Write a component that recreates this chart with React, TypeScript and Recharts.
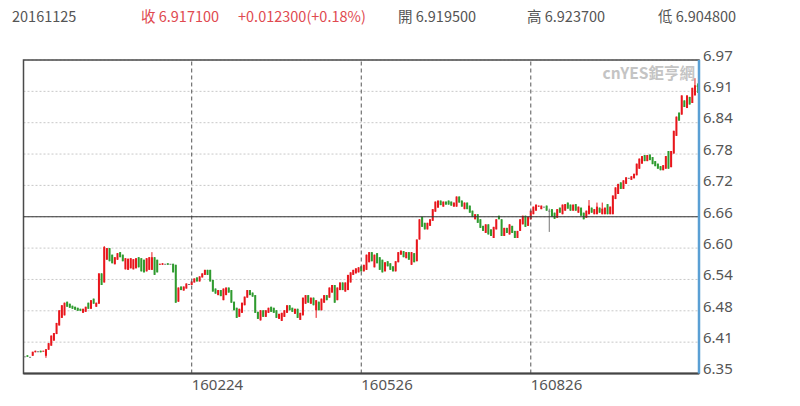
import React from 'react';
import { ComposedChart, Bar, XAxis, YAxis, CartesianGrid, ReferenceLine, ReferenceArea } from 'recharts';

// daily USD/CNY candles, 20151125 .. 20161125
const opens = [
  6.384, 6.386, 6.383, 6.385, 6.392, 6.394, 6.395, 6.394, 6.385, 6.397,
  6.405, 6.415, 6.428, 6.445, 6.46, 6.465, 6.492, 6.488, 6.484, 6.482,
  6.48, 6.478, 6.47, 6.472, 6.49, 6.478, 6.498, 6.482, 6.488, 6.548,
  6.53, 6.575, 6.598, 6.585, 6.566, 6.575, 6.59, 6.585, 6.556, 6.555,
  6.558, 6.556, 6.558, 6.58, 6.578, 6.575, 6.552, 6.555, 6.555, 6.58,
  6.575, 6.566, 6.565, 6.567, 6.568, 6.567, 6.567, 6.565, 6.492, 6.522,
  6.514, 6.518, 6.527, 6.525, 6.53, 6.54, 6.532, 6.54, 6.545, 6.555,
  6.555, 6.535, 6.518, 6.505, 6.515, 6.495, 6.505, 6.52, 6.515, 6.492,
  6.48, 6.462, 6.47, 6.485, 6.5, 6.515, 6.51, 6.505, 6.472, 6.455,
  6.475, 6.462, 6.47, 6.482, 6.48, 6.475, 6.458, 6.454, 6.462, 6.47,
  6.485, 6.48, 6.468, 6.478, 6.456, 6.465, 6.488, 6.505, 6.488, 6.5,
  6.475, 6.492, 6.475, 6.49, 6.505, 6.5, 6.51, 6.525, 6.495, 6.515,
  6.53, 6.512, 6.515, 6.53, 6.545, 6.548, 6.55, 6.562, 6.552, 6.555,
  6.57, 6.59, 6.56, 6.588, 6.58, 6.575, 6.552, 6.572, 6.568, 6.562,
  6.552, 6.57, 6.585, 6.592, 6.578, 6.59, 6.565, 6.588, 6.572, 6.615,
  6.66, 6.648, 6.635, 6.642, 6.652, 6.67, 6.678, 6.692, 6.68, 6.69,
  6.692, 6.69, 6.68, 6.68, 6.7, 6.692, 6.675, 6.688, 6.682, 6.672,
  6.655, 6.665, 6.655, 6.642, 6.628, 6.645, 6.635, 6.618, 6.635, 6.662,
  6.655, 6.622, 6.638, 6.625, 6.642, 6.632, 6.618, 6.632, 6.645, 6.662,
  6.642, 6.655, 6.665, 6.672, 6.68, 6.675, 6.68, 6.682, 6.672, 6.675,
  6.668, 6.658, 6.678, 6.665, 6.672, 6.688, 6.684, 6.672, 6.685, 6.668,
  6.678, 6.668, 6.658, 6.665, 6.678, 6.665, 6.665, 6.678, 6.665, 6.665,
  6.685, 6.665, 6.665, 6.695, 6.705, 6.728, 6.715, 6.725, 6.737, 6.733,
  6.736, 6.742, 6.755, 6.765, 6.782, 6.77, 6.783, 6.778, 6.77, 6.765,
  6.76, 6.752, 6.755, 6.79, 6.758, 6.785, 6.82, 6.866, 6.862, 6.89,
  6.875, 6.897, 6.885, 6.9, 6.9195,
];

const closes = [
  6.384, 6.383, 6.383, 6.393, 6.395, 6.394, 6.392, 6.395, 6.398, 6.41,
  6.425, 6.43, 6.45, 6.475, 6.485, 6.49, 6.482, 6.48, 6.478, 6.476,
  6.474, 6.474, 6.478, 6.482, 6.478, 6.495, 6.488, 6.49, 6.548, 6.525,
  6.6, 6.598, 6.572, 6.568, 6.58, 6.588, 6.58, 6.572, 6.578, 6.577,
  6.578, 6.576, 6.578, 6.56, 6.552, 6.55, 6.578, 6.58, 6.58, 6.545,
  6.55, 6.567, 6.568, 6.567, 6.565, 6.567, 6.55, 6.49, 6.52, 6.515,
  6.522, 6.528, 6.527, 6.532, 6.538, 6.532, 6.542, 6.548, 6.555, 6.545,
  6.532, 6.512, 6.508, 6.515, 6.503, 6.518, 6.52, 6.51, 6.49, 6.475,
  6.46, 6.478, 6.49, 6.502, 6.515, 6.505, 6.502, 6.47, 6.458, 6.475,
  6.462, 6.475, 6.48, 6.472, 6.47, 6.46, 6.468, 6.47, 6.475, 6.485,
  6.475, 6.472, 6.478, 6.46, 6.47, 6.5, 6.505, 6.49, 6.5, 6.485,
  6.495, 6.475, 6.498, 6.505, 6.495, 6.52, 6.525, 6.49, 6.52, 6.53,
  6.515, 6.53, 6.545, 6.55, 6.555, 6.558, 6.56, 6.552, 6.565, 6.585,
  6.59, 6.572, 6.585, 6.568, 6.555, 6.55, 6.57, 6.562, 6.555, 6.552,
  6.572, 6.59, 6.593, 6.58, 6.59, 6.575, 6.59, 6.57, 6.615, 6.655,
  6.64, 6.635, 6.648, 6.655, 6.675, 6.69, 6.692, 6.683, 6.69, 6.684,
  6.684, 6.682, 6.688, 6.7, 6.688, 6.68, 6.688, 6.675, 6.668, 6.66,
  6.665, 6.648, 6.638, 6.632, 6.645, 6.625, 6.622, 6.64, 6.655, 6.655,
  6.622, 6.638, 6.628, 6.645, 6.628, 6.618, 6.632, 6.655, 6.662, 6.64,
  6.66, 6.672, 6.68, 6.684, 6.682, 6.682, 6.68, 6.672, 6.672, 6.66,
  6.656, 6.675, 6.668, 6.684, 6.685, 6.676, 6.672, 6.684, 6.672, 6.68,
  6.662, 6.655, 6.672, 6.682, 6.668, 6.675, 6.68, 6.668, 6.676, 6.678,
  6.665, 6.68, 6.702, 6.718, 6.725, 6.715, 6.732, 6.738, 6.737, 6.74,
  6.745, 6.765, 6.775, 6.78, 6.77, 6.782, 6.772, 6.764, 6.76, 6.755,
  6.752, 6.762, 6.78, 6.755, 6.79, 6.83, 6.858, 6.85, 6.9, 6.877,
  6.9, 6.882, 6.915, 6.92, 6.9171,
];

// [day index, high, low] for the days whose wick sticks out of the body
const extremes: [number, number, number][] = [
  [8, 6.398, 6.381],
  [30, 6.602, 6.53],
  [48, 6.59, 6.555],
  [110, 6.495, 6.46],
  [198, 6.676, 6.63],
  [213, 6.693, 6.665],
  [216, 6.688, 6.665],
  [218, 6.688, 6.665],
  [253, 6.934, 6.9],
  [254, 6.9237, 6.9048],
];

const xTickIndex = [63, 127, 191];
const xTickLabels = ['160224', '160526', '160826'];

const yTicks = [6.35, 6.412, 6.474, 6.536, 6.598, 6.66, 6.722, 6.784, 6.846, 6.908, 6.97];
const yTickLabels = ['6.35', '6.41', '6.48', '6.54', '6.60', '6.66', '6.72', '6.78', '6.84', '6.91', '6.97'];

const yMin = 6.35;
const yMax = 6.97;
const baseLine = 6.66;

const rows = opens.map((o, i) => {
  const c = closes[i];
  const ext = extremes.find((e) => e[0] === i);
  const h = ext ? Math.max(o, c, ext[1]) : Math.max(o, c);
  const l = ext ? Math.min(o, c, ext[2]) : Math.min(o, c);
  return { i, o, c, h, l, range: [l, h] };
});

const UP = '#e8161c';
const DOWN = '#2f9b2f';
const FLAT = '#777777';

const Candle = (props: any) => {
  const { x, y, width, height, payload } = props;
  const { o, c, h, l } = payload;
  const top = Math.min(y, y + height);
  const bottom = Math.max(y, y + height);
  const span = h - l;
  const py = (v: number) => (span > 0 ? top + ((h - v) / span) * (bottom - top) : top);
  const color = c > o ? UP : c < o ? DOWN : FLAT;
  const w = Math.max(width, 1);
  const cx = x + w / 2;
  const bodyTop = py(Math.max(o, c));
  const bodyH = Math.max(1, py(Math.min(o, c)) - bodyTop);
  return (
    <g>
      <line x1={cx} x2={cx} y1={py(h)} y2={py(l)} stroke={color} strokeWidth={1} />
      <rect x={x} y={bodyTop} width={w} height={bodyH} fill={color} />
    </g>
  );
};

const XTick = (props: any) => {
  const { x, y, payload } = props;
  const k = xTickIndex.indexOf(payload.value);
  return (
    <text x={x} y={y + 11.5} dy="0.35em" textAnchor="start" fontSize={15} fill="#555" fontFamily="'Noto Sans', sans-serif">
      {k >= 0 ? xTickLabels[k] : ''}
    </text>
  );
};

const YTick = (props: any) => {
  const { x, y, payload } = props;
  const k = yTicks.indexOf(payload.value);
  return (
    <text x={x} y={y - 4.5} dy="0.35em" textAnchor="start" fontSize={15} fill="#555" fontFamily="'Noto Sans', sans-serif">
      {k >= 0 ? yTickLabels[k] : ''}
    </text>
  );
};

const headStyle: React.CSSProperties = {
  position: 'absolute',
  top: 6,
  fontSize: 14.5,
  lineHeight: '20px',
  whiteSpace: 'nowrap',
};

export default function App() {
  return (
    <div
      style={{
        position: 'absolute',
        left: 0,
        top: 0,
        width: 800,
        height: 406,
        background: '#fff',
        fontFamily: "'Noto Sans CJK TC', 'Noto Sans', sans-serif",
      }}
    >
      <div style={{ ...headStyle, left: 12, color: '#555' }}>20161125</div>
      <div style={{ ...headStyle, left: 141, color: '#e04a50' }}>收 6.917100</div>
      <div style={{ ...headStyle, left: 238, color: '#e04a50' }}>+0.012300(+0.18%)</div>
      <div style={{ ...headStyle, left: 398, color: '#555' }}>開 6.919500</div>
      <div style={{ ...headStyle, left: 527, color: '#555' }}>高 6.923700</div>
      <div style={{ ...headStyle, left: 658, color: '#555' }}>低 6.904800</div>

      <ComposedChart
        width={800}
        height={406}
        data={rows}
        margin={{ top: 60, right: 41, left: 23.5, bottom: 2.5 }}
        barCategoryGap="10%"
      >
        <CartesianGrid vertical={false} stroke="#c8c8c8" strokeDasharray="2 2" />
        {xTickIndex.map((t) => (
          <ReferenceLine key={t} x={t} stroke="#555" strokeDasharray="4 3" />
        ))}
        <ReferenceLine y={baseLine} stroke="#333" strokeWidth={1} />
        <ReferenceArea y1={yMin} y2={yMax} fill="none" stroke="#4a4a4a" strokeWidth={1.5} ifOverflow="visible" />
        <XAxis
          dataKey="i"
          ticks={xTickIndex}
          interval={0}
          height={30}
          tickSize={0}
          tickMargin={0}
          tickLine={false}
          axisLine={{ stroke: '#444', strokeWidth: 2 }}
          tick={<XTick />}
        />
        <YAxis
          orientation="right"
          domain={[yMin, yMax]}
          ticks={yTicks}
          interval={0}
          allowDataOverflow
          width={60}
          tickSize={0}
          tickMargin={4}
          tickLine={false}
          axisLine={{ stroke: '#5a9fd4', strokeWidth: 2.5 }}
          tick={<YTick />}
        />
        <Bar dataKey="range" shape={<Candle />} isAnimationActive={false} />
      </ComposedChart>

      <div
        style={{
          position: 'absolute',
          right: 105,
          top: 61,
          fontSize: 15.5,
          fontWeight: 700,
          color: '#c4c4c4',
          whiteSpace: 'nowrap',
        }}
      >
        cnYES鉅亨網
      </div>
    </div>
  );
}
